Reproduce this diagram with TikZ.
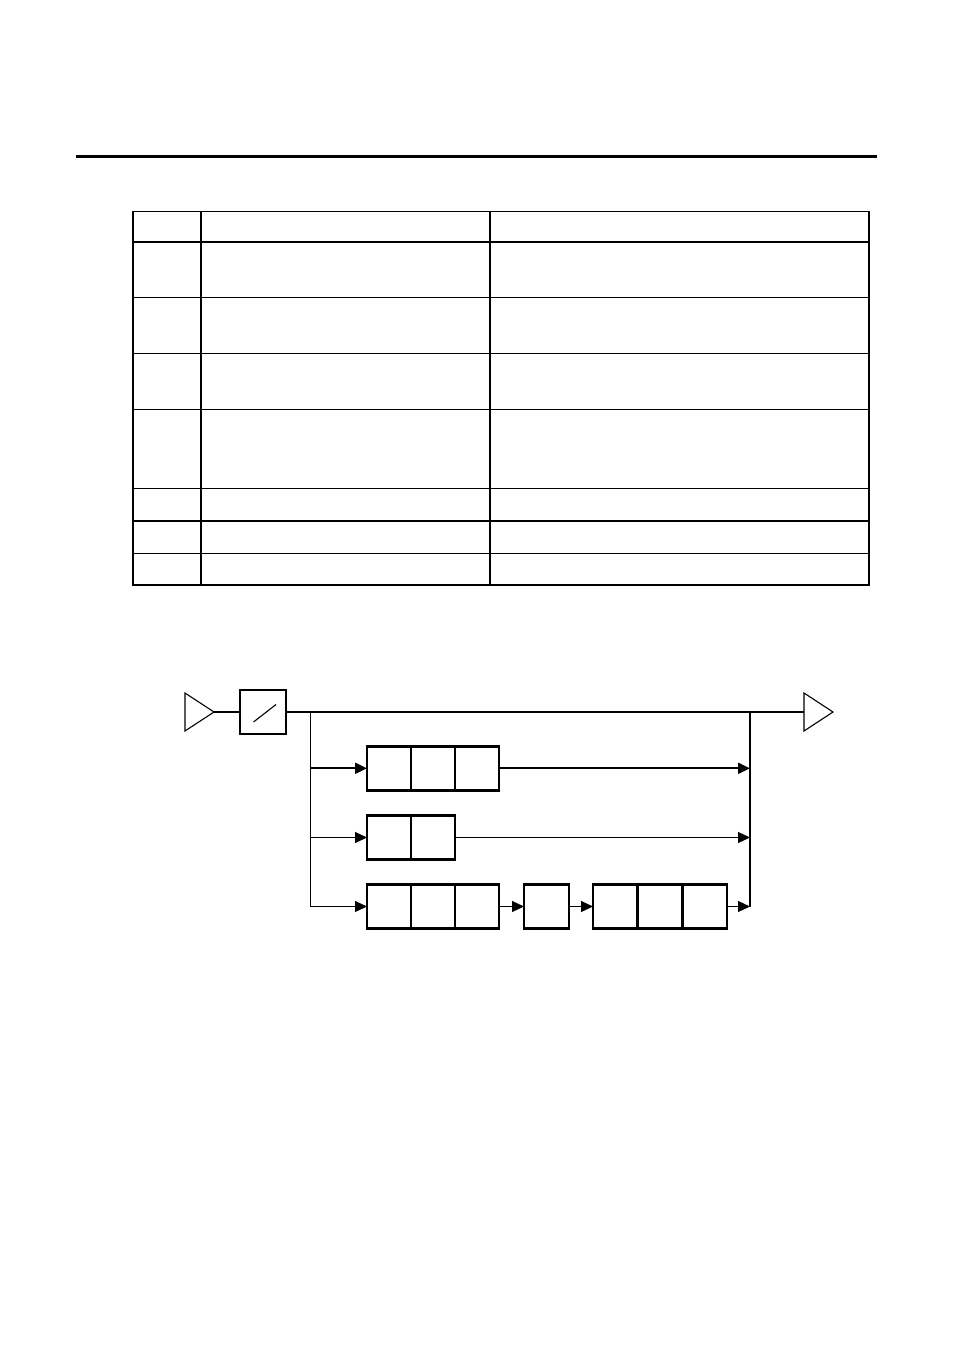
\documentclass[tikz,border=0pt]{standalone}
\usetikzlibrary{arrows.meta}
\begin{document}
\begin{tikzpicture}[x=1pt,y=-1pt,
  cell/.style={draw,line width=2.4pt,minimum width=44pt,minimum height=44pt,inner sep=0pt,outer sep=0pt},
  wide/.style={cell,minimum width=45pt},
  thin/.style={line width=1.1pt},
  tbl/.style={line width=1.3pt},
  tblthick/.style={line width=2.6pt},
  arr/.style={-{Triangle[length=12pt,width=11pt]}},
  tri/.style={line width=1.1pt,line join=miter}]
\useasboundingbox (0,0) rectangle (954,1351);
\fill[white] (0,0) rectangle (954,1351);

% top rule
\draw[line width=3pt] (76,157) -- (877,157);

% table
\draw[tbl] (133,211.5) rectangle (869,585);
\draw[tbl] (201,211.5) -- (201,585);
\draw[tbl] (490,211.5) -- (490,585);
\draw[tblthick] (133,242) -- (869,242);
\draw[tbl] (133,297.5) -- (869,297.5);
\draw[tbl] (133,353.5) -- (869,353.5);
\draw[tbl] (133,409.5) -- (869,409.5);
\draw[tbl] (133,488.5) -- (869,488.5);
\draw[tblthick] (133,521) -- (869,521);
\draw[tbl] (133,553.5) -- (869,553.5);

% diagram
\draw[tri] (185,693) -- (214,712) -- (185,731) -- cycle;
\coordinate (intip) at (214,712);
\node[cell,minimum width=46pt] (conv) at (263,712) {};
\draw[thin] (253.5,722) -- (276,704.5);
\draw[tri] (804,693) -- (833,712) -- (804,731) -- cycle;
\coordinate (outtri) at (804,712);
\draw[thin] (intip) -- (conv.west);
\draw[thin] (conv.east) -- (outtri);

\coordinate (bl0) at (310.5,712);
\coordinate (bl3) at (310.5,906.5);
\coordinate (br0) at (750,712);
\coordinate (br3) at (750,906.5);
\draw[thin] (bl0) -- (bl3);
\draw[thin] (br0) -- (br3);

% row 1
\node[cell] (a1) at (389,768.3) {};
\node[cell] (a2) at (433,768.3) {};
\node[cell] (a3) at (477,768.3) {};
\coordinate (bl1) at (310.5,768.3);
\coordinate (br1) at (750,768.3);
\draw[line width=2pt,arr] (bl1) -- (a1.west);
\draw[line width=2pt,arr] (a3.east) -- (br1);

% row 2
\node[cell] (b1) at (389,837.5) {};
\node[cell] (b2) at (433,837.5) {};
\coordinate (bl2) at (310.5,837.5);
\coordinate (br2) at (750,837.5);
\draw[thin,arr] (bl2) -- (b1.west);
\draw[thin,arr] (b2.east) -- (br2);

% row 3
\node[cell] (c1) at (389,906.5) {};
\node[cell] (c2) at (433,906.5) {};
\node[cell] (c3) at (477,906.5) {};
\node[wide] (d1) at (546.5,906.5) {};
\node[wide] (e1) at (615.5,906.5) {};
\node[wide] (e2) at (660,906.5) {};
\node[wide] (e3) at (704.5,906.5) {};
\draw[thin,arr] (bl3) -- (c1.west);
\draw[thin,arr] (c3.east) -- (d1.west);
\draw[thin,arr] (d1.east) -- (e1.west);
\draw[thin,arr] (e3.east) -- (br3);
\end{tikzpicture}
\end{document}
